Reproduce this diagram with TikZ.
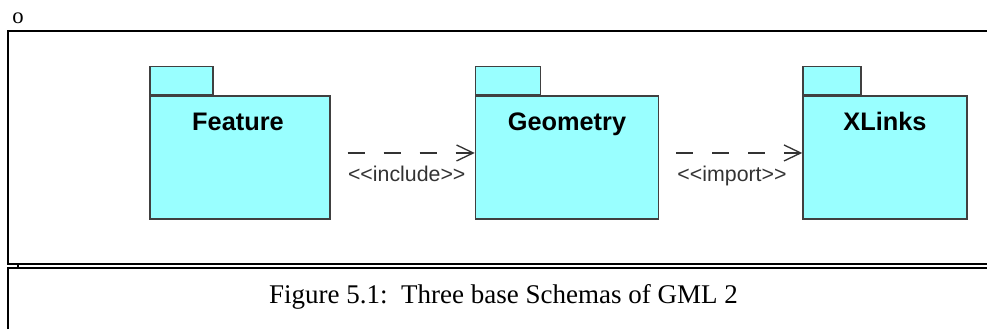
\documentclass[tikz,border=0pt]{standalone}
\usepackage{fontspec}
\setmainfont{Liberation Serif}
\setsansfont{Liberation Sans}
\usepackage{tikz}
\usetikzlibrary{arrows.meta,positioning}
\definecolor{PkgCyan}{HTML}{99FFFF}
\definecolor{PkgEdge}{HTML}{404040}
\definecolor{DepGray}{HTML}{333333}

\newcommand{\stereo}[1]{{<}{<}#1{>}{>}}

\begin{document}
\begin{tikzpicture}[
    x=0.75pt, y=-0.75pt,
    pkgbody/.style={draw=PkgEdge, fill=PkgCyan, line width=1.1pt, minimum height=92.25pt, inner sep=0pt},
    pkgtab/.style={draw=PkgEdge, fill=PkgCyan, line width=1.1pt, minimum height=21pt, inner sep=0pt, anchor=south west},
    title/.style={font=\sffamily\bfseries\fontsize{19}{22}\selectfont, anchor=base},
    dep/.style={draw=DepGray, line width=1pt, dash pattern=on 12.75pt off 14.25pt, shorten <=12.75pt, -{Straight Barb[length=12.5pt,width=12pt]}},
    deplabel/.style={font=\sffamily\fontsize{16}{18}\selectfont, anchor=base, text=DepGray},
    frame/.style={line width=1.5pt}
]
\useasboundingbox (0,0) rectangle (987,329);

% table frame
\draw[frame] (987,31) -| (8,264) -- (987,264);
\draw[frame] (8,329) |- (987,268);
\draw[line width=1pt] (18,264) -- (18,268);
\node[font=\fontsize{17}{20}\selectfont, anchor=base] (mark) at (18,23) {o};

% packages
\node[pkgbody, minimum width=135pt] (feature) at (240,157.5) {};
\node[pkgbody, minimum width=137.25pt, right=108pt of feature] (geometry) {};
\node[pkgbody, minimum width=123pt, right=107.25pt of geometry] (xlinks) {};
\node[pkgtab, minimum width=47.25pt] (featureTab) at (feature.north west) {};
\node[pkgtab, minimum width=48.75pt] (geometryTab) at (geometry.north west) {};
\node[pkgtab, minimum width=43.5pt] (xlinksTab) at (xlinks.north west) {};
\node[title] (featureName) at ([xshift=-1.5pt, yshift=-26.25pt]feature.north) {Feature};
\node[title] (geometryName) at ([yshift=-26.25pt]geometry.north) {Geometry};
\node[title] (xlinksName) at ([yshift=-26.25pt]xlinks.north) {XLinks};

% dependencies
\draw[dep] ([yshift=3.4pt]feature.east) -- node[deplabel, midway, yshift=-21.75pt, xshift=3pt] (inclLabel) {\stereo{include}} ([yshift=3.4pt]geometry.west);
\draw[dep] ([yshift=3.4pt]geometry.east) -- node[deplabel, midway, yshift=-21.75pt, xshift=1pt] (importLabel) {\stereo{import}} ([yshift=3.4pt]xlinks.west);

% caption
\node[font=\fontsize{20.25}{24}\selectfont, anchor=base] (caption) at (503.5,303) {Figure 5.1:\ \ Three base Schemas of GML 2};
\end{tikzpicture}
\end{document}
